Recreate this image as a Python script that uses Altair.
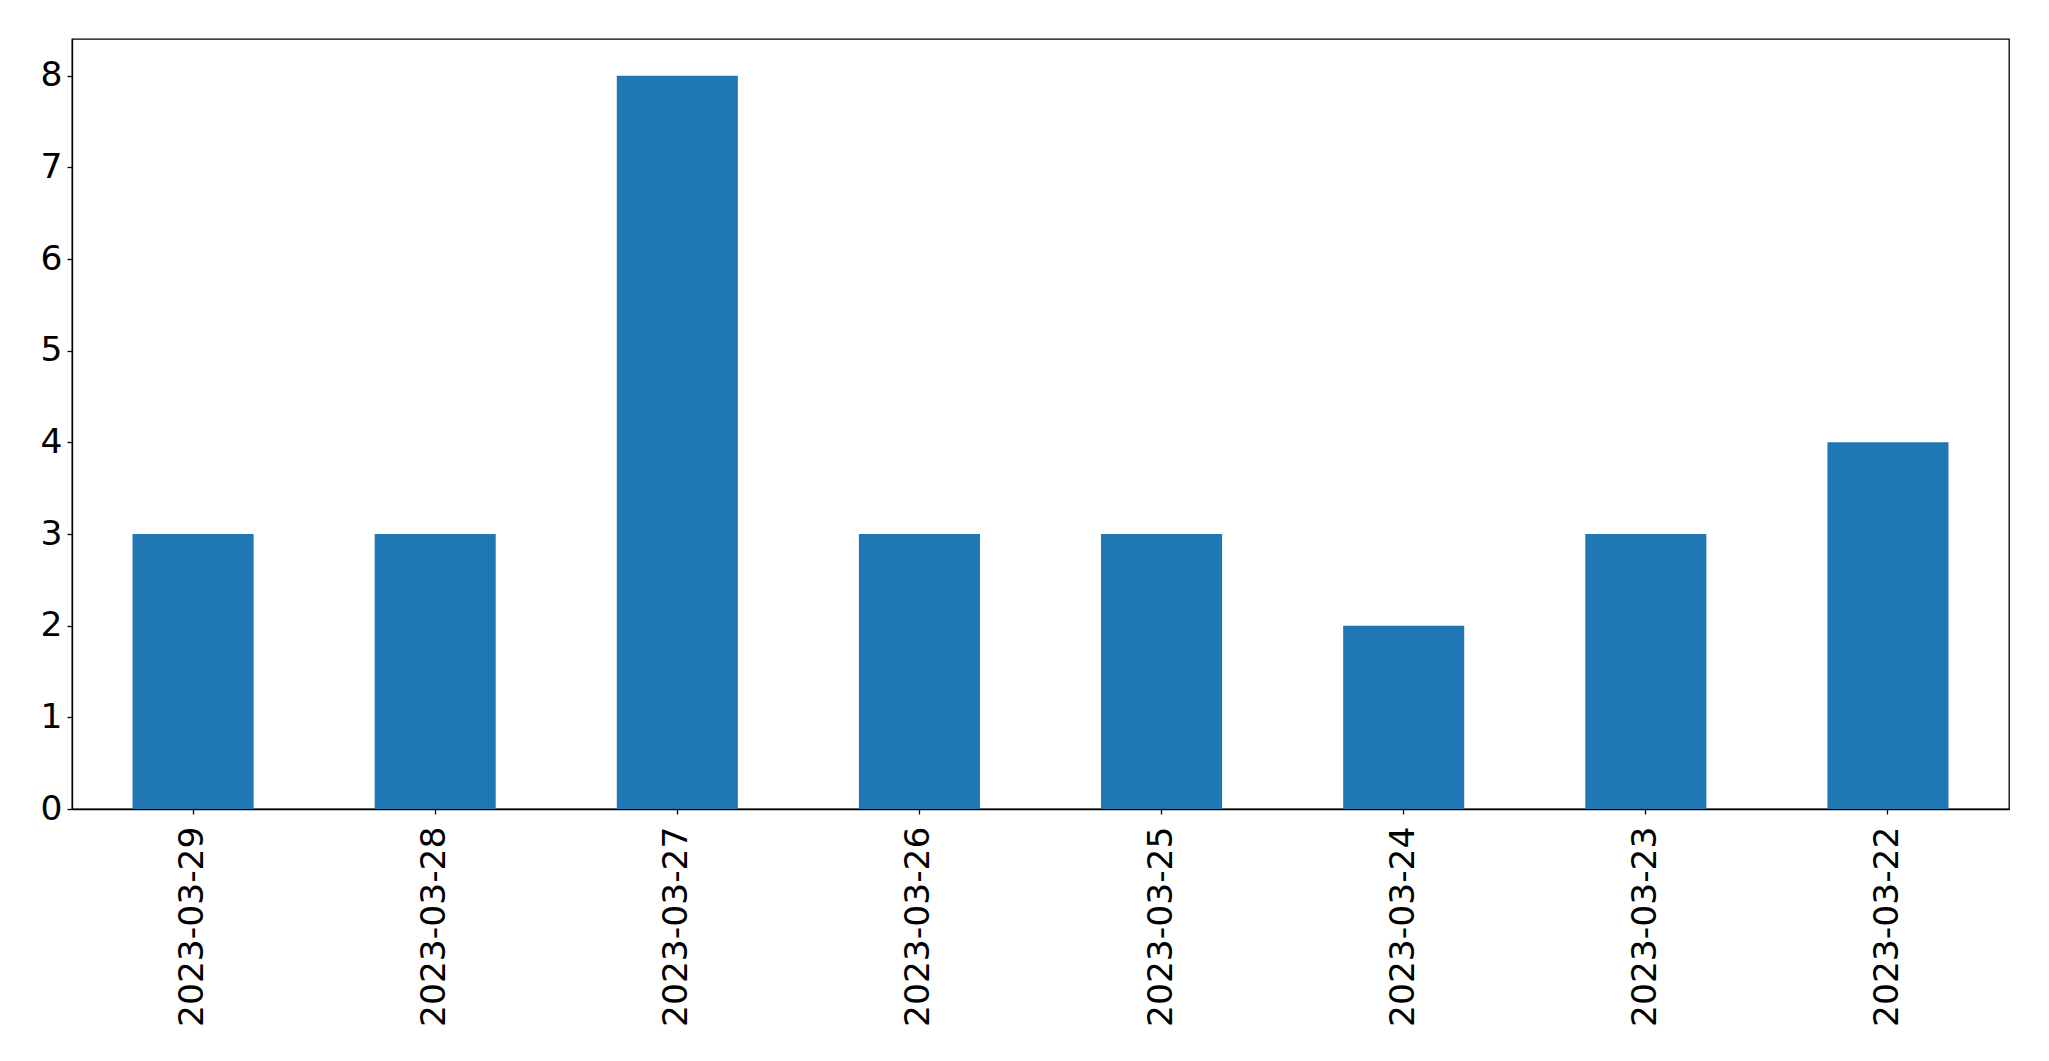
import altair as alt
import pandas as pd

dates = ["2023-03-29", "2023-03-28", "2023-03-27", "2023-03-26",
         "2023-03-25", "2023-03-24", "2023-03-23", "2023-03-22"]
counts = [3, 3, 8, 3, 3, 2, 3, 4]

df = pd.DataFrame({"date": dates, "count": counts})

FONT = "DejaVu Sans"

chart = alt.Chart(df).mark_bar(color="#1f77b4").encode(
    x=alt.X("date:N", sort=None, title=None,
            scale=alt.Scale(paddingInner=0.5, paddingOuter=0.25),
            axis=alt.Axis(labelAngle=270, labelFontSize=34.5, labelFont=FONT,
                          labelColor="black", tickColor="black", domainColor="black",
                          tickSize=5, labelPadding=12, labelLimit=0, grid=False)),
    y=alt.Y("count:Q", title=None,
            scale=alt.Scale(domain=[0, 8.4], nice=False, zero=True),
            axis=alt.Axis(values=list(range(0, 9)), labelFontSize=34.5, labelFont=FONT,
                          labelColor="black", tickColor="black", domainColor="black",
                          tickSize=5, labelPadding=5, grid=False)),
).properties(
    width=1937, height=770,
    autosize=alt.AutoSizeParams(type="none"),
    padding={"left": 64, "top": 31, "right": 30, "bottom": 240},
).configure_view(stroke="black", strokeWidth=1.3).configure_axis(domainWidth=1.3, tickWidth=1.3)

chart.save("out.html", embed_options={"renderer": "svg", "actions": False})
